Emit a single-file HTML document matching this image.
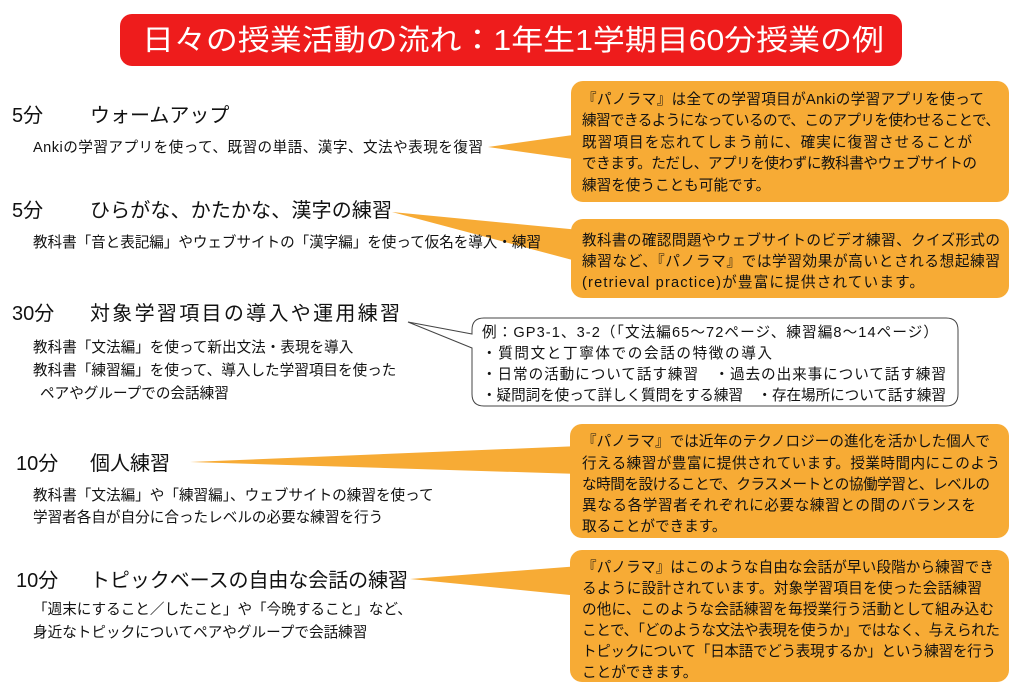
<!DOCTYPE html>
<html><head><meta charset="utf-8"><style>
html,body{margin:0;padding:0;background:#fff;}
svg{display:block;font-family:"Liberation Sans","Noto Sans CJK JP",sans-serif;}
.h{font-size:20px;fill:#111;}
.s{font-size:14.6px;fill:#111;}
.b{font-size:14.6px;fill:#111;}
</style></head><body>
<svg width="1024" height="691" viewBox="0 0 1024 691" xmlns="http://www.w3.org/2000/svg">
<rect x="120" y="14" width="782" height="52" rx="12" fill="#ee1c1c"/>
<text x="142" y="50" textLength="742" lengthAdjust="spacingAndGlyphs" font-size="29" fill="#fff">日々の授業活動の流れ：1年生1学期目60分授業の例</text>

<polygon points="488,147 580,134 580,160" fill="#f7ab35"/>
<polygon points="392,212 580,230 580,262" fill="#f7ab35"/>
<polygon points="190,462 580,446 580,474" fill="#f7ab35"/>
<polygon points="410,579 580,566 580,596" fill="#f7ab35"/>

<rect x="571" y="81" width="438" height="121" rx="12" fill="#f7ab35"/>
<rect x="571" y="219" width="438" height="79" rx="12" fill="#f7ab35"/>
<rect x="570" y="424" width="439" height="114" rx="12" fill="#f7ab35"/>
<rect x="570" y="550" width="439" height="132" rx="12" fill="#f7ab35"/>

<path d="M488,318 H946 Q958,318 958,330 V394 Q958,406 946,406 H484 Q472,406 472,394 V348 L408,322 L472,334 V330 Q472,318 484,318 Z" fill="#fff" stroke="#444" stroke-width="1"/>

<text class="h" x="12" y="122">5分</text><text class="h" x="90" y="122">ウォームアップ</text>
<text class="s" x="33" y="152" textLength="450">Ankiの学習アプリを使って、既習の単語、漢字、文法や表現を復習</text>
<text class="h" x="12" y="217">5分</text><text class="h" x="90" y="217" textLength="302">ひらがな、かたかな、漢字の練習</text>
<text class="s" x="33" y="247" textLength="508">教科書「音と表記編」やウェブサイトの「漢字編」を使って仮名を導入・練習</text>
<text class="h" x="12" y="320">30分</text><text class="h" x="90" y="320" textLength="310">対象学習項目の導入や運用練習</text>
<text class="s" x="33" y="352">教科書「文法編」を使って新出文法・表現を導入</text>
<text class="s" x="33" y="375">教科書「練習編」を使って、導入した学習項目を使った</text>
<text class="s" x="40" y="398">ペアやグループでの会話練習</text>
<text class="h" x="16" y="470">10分</text><text class="h" x="90" y="470">個人練習</text>
<text class="s" x="33" y="500">教科書「文法編」や「練習編」、ウェブサイトの練習を使って</text>
<text class="s" x="33" y="522">学習者各自が自分に合ったレベルの必要な練習を行う</text>
<text class="h" x="16" y="587">10分</text><text class="h" x="90" y="587" textLength="318">トピックベースの自由な会話の練習</text>
<text class="s" x="33" y="614">「週末にすること／したこと」や「今晩すること」など、</text>
<text class="s" x="33" y="637">身近なトピックについてペアやグループで会話練習</text>

<g class="b">
<text x="582" y="104" textLength="402">『パノラマ』は全ての学習項目がAnkiの学習アプリを使って</text>
<text x="582" y="125" textLength="418">練習できるようになっているので、このアプリを使わせることで、</text>
<text x="582" y="147" textLength="390">既習項目を忘れてしまう前に、確実に復習させることが</text>
<text x="582" y="168" textLength="395">できます。ただし、アプリを使わずに教科書やウェブサイトの</text>
<text x="582" y="190">練習を使うことも可能です。</text>
<text x="582" y="245" textLength="418">教科書の確認問題やウェブサイトのビデオ練習、クイズ形式の</text>
<text x="582" y="266" textLength="418">練習など、『パノラマ』では学習効果が高いとされる想起練習</text>
<text x="582" y="287" textLength="342">(retrieval practice)が豊富に提供されています。</text>
<text x="482" y="337" textLength="456">例：GP3-1、3-2（「文法編65～72ページ、練習編8～14ページ）</text>
<text x="482" y="358" textLength="290">・質問文と丁寧体での会話の特徴の導入</text>
<text x="482" y="379" textLength="464">・日常の活動について話す練習　・過去の出来事について話す練習</text>
<text x="482" y="400" textLength="464">・疑問詞を使って詳しく質問をする練習　・存在場所について話す練習</text>
<text x="582" y="446" textLength="408">『パノラマ』では近年のテクノロジーの進化を活かした個人で</text>
<text x="582" y="468" textLength="418">行える練習が豊富に提供されています。授業時間内にこのよう</text>
<text x="582" y="489" textLength="408">な時間を設けることで、クラスメートとの協働学習と、レベルの</text>
<text x="582" y="510" textLength="394">異なる各学習者それぞれに必要な練習との間のバランスを</text>
<text x="582" y="531">取ることができます。</text>
<text x="582" y="572" textLength="412">『パノラマ』はこのような自由な会話が早い段階から練習でき</text>
<text x="582" y="593" textLength="400">るように設計されています。対象学習項目を使った会話練習</text>
<text x="582" y="614" textLength="412">の他に、このような会話練習を毎授業行う活動として組み込む</text>
<text x="582" y="635" textLength="418">ことで、「どのような文法や表現を使うか」ではなく、与えられた</text>
<text x="582" y="656" textLength="414">トピックについて「日本語でどう表現するか」という練習を行う</text>
<text x="582" y="677">ことができます。</text>
</g>
</svg>
</body></html>
